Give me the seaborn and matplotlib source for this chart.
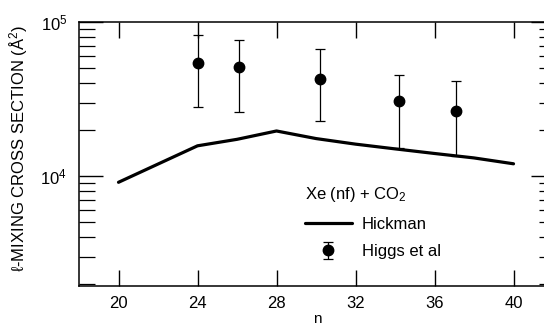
import numpy as np
import pandas as pd
import matplotlib
matplotlib.use("Agg")
import matplotlib.pyplot as plt
import seaborn as sns
from matplotlib.ticker import LogLocator, NullFormatter, FixedLocator

# ---- data ----
hick_n = [20, 24, 26, 28, 30, 32, 34, 36, 38, 40]
hick_sigma = [9100, 15700, 17300, 19600, 17500, 16100, 15000, 14000, 13100, 12000]

higgs_n = [24.0, 26.1, 30.2, 34.2, 37.1]
higgs_sigma = [54000, 51300, 42700, 30700, 26600]
higgs_hi = [82400, 76400, 66800, 45100, 41400]
higgs_lo = [28200, 26200, 22900, 15100, 13500]

x_ticks = [20, 24, 28, 32, 36, 40]

sns.set_theme(style="ticks")
plt.rcParams['font.family'] = ['Liberation Sans', 'DejaVu Sans']
plt.rcParams['mathtext.fontset'] = 'custom'
plt.rcParams['mathtext.rm'] = 'Liberation Sans'
plt.rcParams['mathtext.it'] = 'Liberation Sans:italic'
plt.rcParams['mathtext.bf'] = 'Liberation Sans:bold'
for k in ['text.color', 'axes.labelcolor', 'xtick.color', 'ytick.color',
          'axes.edgecolor', 'legend.labelcolor']:
    plt.rcParams[k] = 'black'

fig = plt.figure(figsize=(5.44, 3.29), dpi=100)
ax = fig.add_axes([79/544, 43/329, 476/544, 264/329])

df = pd.DataFrame({"n": hick_n, "sigma": hick_sigma})
sns.lineplot(data=df, x="n", y="sigma", ax=ax, color="black", lw=2.3,
             label="Hickman")

err = np.array([np.array(higgs_sigma) - np.array(higgs_lo),
                np.array(higgs_hi) - np.array(higgs_sigma)])
ax.errorbar(higgs_n, higgs_sigma, yerr=err, fmt='o', color='black',
            ms=7.5, elinewidth=0.9, capsize=3.3, capthick=0.9,
            label="Higgs et al")

ax.set_yscale('log')
ax.set_xlim(18, 42.1)
ax.set_ylim(1930, 1e5)

ax.xaxis.set_major_locator(FixedLocator(x_ticks))
ax.yaxis.set_major_locator(LogLocator(base=10, numticks=10))
ax.yaxis.set_minor_locator(LogLocator(base=10, subs=np.arange(2, 10), numticks=20))
ax.yaxis.set_minor_formatter(NullFormatter())

ax.tick_params(axis='x', which='major', direction='in', length=11.5, width=1.0,
               top=True, bottom=True, labelsize=12, pad=7, color='black',
               labelcolor='black')
ax.tick_params(axis='y', which='major', direction='in', length=17, width=1.0,
               left=True, right=True, labelsize=12, pad=8.5, color='black',
               labelcolor='black')
ax.tick_params(axis='y', which='minor', direction='in', length=11.5, width=0.9,
               left=True, right=True, color='black')

for s in ax.spines.values():
    s.set_linewidth(1.1)
    s.set_color('black')

ax.set_xlabel("n", fontsize=11, color='black')
ax.xaxis.set_label_coords(0.5, -0.098)
ax.set_ylabel("\u2113-MIXING CROSS SECTION (\u00c5$^2$)", fontsize=12, color='black')
ax.yaxis.set_label_coords(-0.103, 0.52)

leg = ax.legend(title="Xe (nf) + CO$_2$", loc='upper left',
                bbox_to_anchor=(305/544, 1 - 185/329),
                bbox_transform=fig.transFigure, frameon=False,
                fontsize=12, title_fontsize=12, borderpad=0, borderaxespad=0,
                handlelength=2.8, handletextpad=0.6, labelspacing=0.75,
                numpoints=1, alignment='left')
leg.get_title().set_color('black')
for t in leg.get_texts():
    t.set_color('black')

fig.savefig("out.png", dpi=100)
